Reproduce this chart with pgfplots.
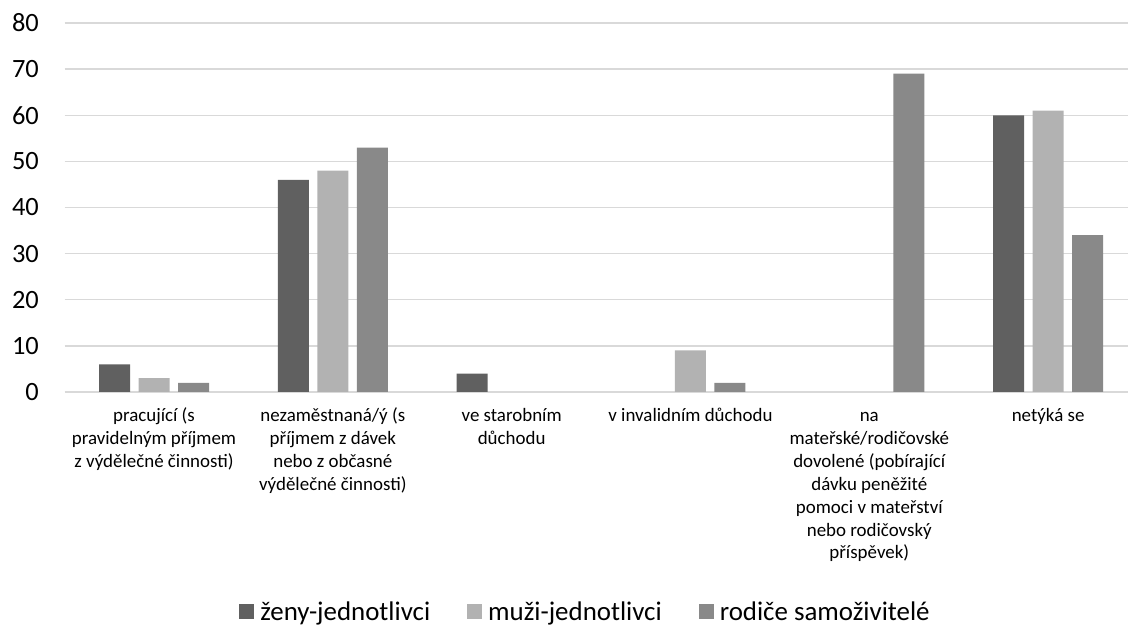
\documentclass[border=0pt]{standalone}
\usepackage{fontspec}
\setmainfont{Carlito}
\usepackage{pgfplots}
\pgfplotsset{compat=1.18}
\definecolor{zeny}{HTML}{606060}
\definecolor{muzi}{HTML}{B2B2B2}
\definecolor{rodice}{HTML}{898989}
\definecolor{mrizka}{HTML}{D9D9D9}

\begin{document}
\begin{tikzpicture}
\useasboundingbox (0,0) rectangle (1128bp,627bp);
\begin{axis}[
    at={(64.6bp,235bp)}, anchor=south west,
    scale only axis,
    width=1063.4bp, height=369bp,
    ybar=8.5bp, bar width=31bp,
    xmin=-0.5, xmax=5.447,
    ymin=0, ymax=80,
    ytick={0,10,...,80},
    xtick={0,1,2,3,4,5},
    xticklabels={
        {\strut pracující (s\\pravidelným příjmem\\z výdělečné činnosti)},
        {\strut nezaměstnaná/ý (s\\příjmem z dávek\\nebo z občasné\\výdělečné činnosti)},
        {\strut ve starobním\\důchodu},
        {\strut v invalidním důchodu},
        {\strut na\\mateřské/rodičovské\\dovolené (pobírající\\dávku peněžité\\pomoci v mateřství\\nebo rodičovský\\příspěvek)},
        {\strut netýká se}},
    axis line style={draw=none},
    tick style={draw=none},
    ymajorgrids,
    grid style={mrizka, line width=1.3bp},
    /pgf/number format/assume math mode=true,
    yticklabel style={font=\fontsize{26.5}{31}\selectfont, inner sep=0pt, anchor=east, xshift=-25.6bp},
    xticklabel style={font=\fontsize{19}{23}\selectfont, align=center, anchor=north, inner sep=0pt, yshift=-9bp},
    legend columns=3,
    legend style={at={(0.4898,-0.596)}, anchor=center, draw=none, fill=none,
        font=\fontsize{27}{32}\selectfont,
        /tikz/every even column/.append style={column sep=35bp},
        /tikz/every odd column/.append style={column sep=4bp}},
    legend image code/.code={\fill[#1, draw=none] (0bp,-7.5bp) rectangle (15bp,7.5bp);},
]
\addplot[fill=zeny, draw=none] coordinates {(0,6) (1,46) (2,4) (3,0) (4,0) (5,60)};
\addplot[fill=muzi, draw=none] coordinates {(0,3) (1,48) (2,0) (3,9) (4,0) (5,61)};
\addplot[fill=rodice, draw=none] coordinates {(0,2) (1,53) (2,0) (3,2) (4,69) (5,34)};
\legend{ženy-jednotlivci, muži-jednotlivci, rodiče samoživitelé}
\end{axis}
\end{tikzpicture}
\end{document}
